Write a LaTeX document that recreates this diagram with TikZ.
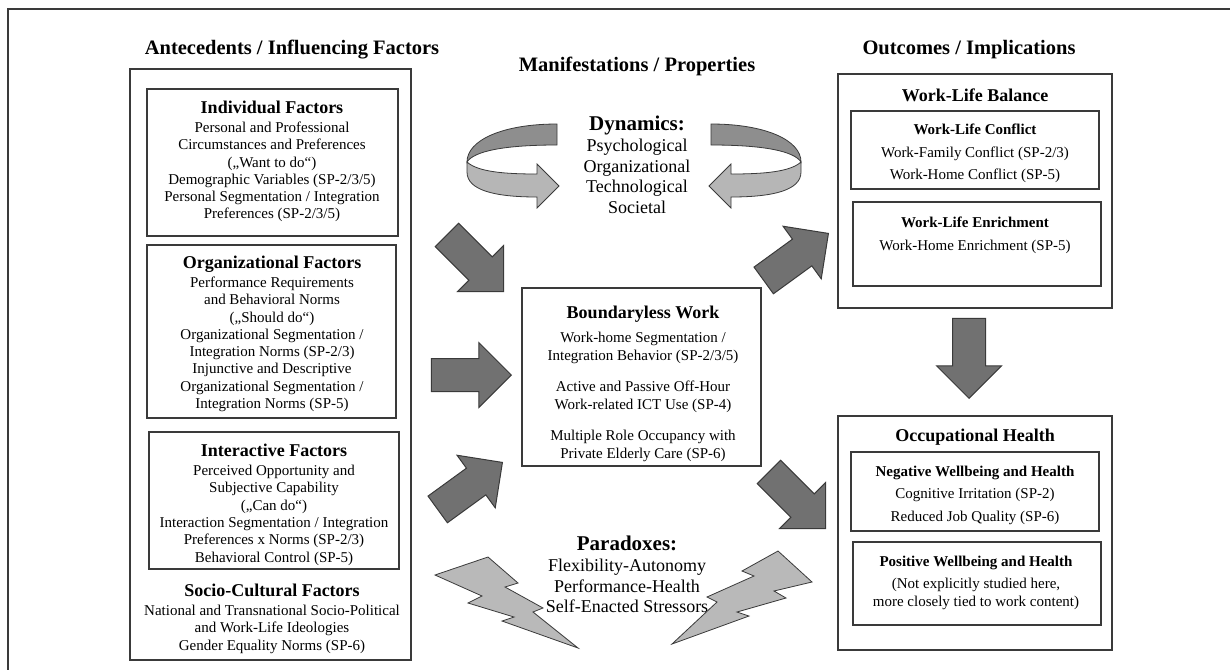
\documentclass[tikz,border=0pt]{standalone}
\usepackage{fontspec}
\setmainfont{Liberation Serif}
\usetikzlibrary{shapes.arrows,positioning}

\definecolor{linegray}{HTML}{3A3A3A}
\definecolor{arrowgray}{HTML}{717171}
\definecolor{boltgray}{HTML}{B9B9B9}
\definecolor{backgray}{HTML}{8E8E8E}
\definecolor{frontgray}{HTML}{B6B6B6}

\tikzset{
  box/.style={draw=linegray, line width=1.2pt},
  headtitle/.style={inner sep=0pt, font=\fontsize{20.5}{24}\selectfont\bfseries},
  txt/.style={align=center, inner sep=0pt, font=\fontsize{15}{17.3}\selectfont},
  bigtxt/.style={align=center, inner sep=0pt, font=\fontsize{18}{20.7}\selectfont},
  blockarrow/.style={single arrow, draw=linegray, fill=arrowgray, line width=1pt,
    inner sep=0pt, text height=32pt, text depth=0pt, minimum height=80pt,
    single arrow head extend=16pt, single arrow tip angle=90},
  bolt/.style={draw=linegray, fill=boltgray, line width=0.8pt, line join=miter},
  ribbon/.style={draw=linegray, line width=0.8pt}
}
\newcommand{\hd}[1]{{\fontsize{18}{20}\selectfont\bfseries #1}}
\newcommand{\subhd}[1]{{\fontsize{15}{17}\selectfont\bfseries #1}}
\newcommand{\dynhd}[1]{{\fontsize{21}{24}\selectfont\bfseries #1}}
% one looping ribbon arrow (left version, mirrored for the right one)
\newcommand{\loopribbon}{%
  \draw[ribbon, fill=backgray] (557,124) .. controls (503,124) and (467,140) .. (467,162)
    .. controls (474,151) and (505,145) .. (557,145) -- cycle;
  \draw[ribbon, fill=frontgray] (467,162) .. controls (478,172) and (505,174) .. (537,174)
    -- (537,164) -- (559,186) -- (537,208) -- (537,197)
    .. controls (494,197) and (467,190) .. (467,172) -- cycle;
}

\begin{document}
\begin{tikzpicture}[x=1pt, y=-1pt]
  \useasboundingbox (0,0) rectangle (1230,670);
  % outer frame
  \draw[linegray, line width=1.2pt] (1230,9) -- (8,9) -- (8,670);

  % titles
  \node[headtitle, anchor=base] (antTitle) at (292,54) {Antecedents / Influencing Factors};
  \node[headtitle, anchor=base] (manTitle) at (637,71) {Manifestations / Properties};
  \node[headtitle, anchor=base] (outTitle) at (969,54) {Outcomes / Implications};

  % antecedents
  \draw[box] (130,69) rectangle (411,660);
  \draw[box] (147,89) rectangle (398,236);
  \node[txt, anchor=north] (indiv) at (272,101) {\hd{Individual Factors}\\[1.5pt]
    Personal and Professional\\ Circumstances and Preferences\\ („Want to do“)\\
    Demographic Variables (SP-2/3/5)\\ Personal Segmentation / Integration\\ Preferences (SP-2/3/5)};
  \draw[box] (147,245) rectangle (396,418);
  \node[txt, anchor=north] (orga) at (272,256) {\hd{Organizational Factors}\\[1.5pt]
    Performance Requirements\\ and Behavioral Norms\\ („Should do“)\\
    Organizational Segmentation /\\ Integration Norms (SP-2/3)\\ Injunctive and Descriptive\\
    Organizational Segmentation /\\ Integration Norms (SP-5)};
  \draw[box] (149,432) rectangle (399,569);
  \node[txt, anchor=north] (inter) at (274,444) {\hd{Interactive Factors}\\[1.5pt]
    Perceived Opportunity and\\ Subjective Capability\\ („Can do“)\\
    Interaction Segmentation / Integration\\ Preferences x Norms (SP-2/3)\\ Behavioral Control (SP-5)};
  \node[txt, anchor=north] (socio) at (272,584) {\hd{Socio-Cultural Factors}\\[1.5pt]
    National and Transnational Socio-Political\\ and Work-Life Ideologies\\ Gender Equality Norms (SP-6)};

  % manifestations
  \loopribbon
  \begin{scope}[xshift=1268pt, xscale=-1]
    \loopribbon
  \end{scope}
  \node[bigtxt, anchor=north] (dyn) at (637,116) {\dynhd{Dynamics:}\\
    Psychological\\ Organizational\\ Technological\\ Societal};
  \draw[box] (522,288) rectangle (761,466);
  \node[txt, anchor=north, font=\fontsize{15}{18}\selectfont] (bwork) at (643,306) {\hd{Boundaryless Work}\\[6pt]
    Work-home Segmentation /\\ Integration Behavior (SP-2/3/5)\\[13pt]
    Active and Passive Off-Hour\\ Work-related ICT Use (SP-4)\\[13pt]
    Multiple Role Occupancy with\\ Private Elderly Care (SP-6)};
  \node[bigtxt, anchor=north] (para) at (627,536) {\dynhd{Paradoxes:}\\
    Flexibility-Autonomy\\ Performance-Health\\ Self-Enacted Stressors};
  % lightning
  \draw[bolt] (435,575) -- (488,557) -- (518,583) -- (505,587) -- (543,608) -- (533,612)
    -- (578,648) -- (502,621) -- (514,617) -- (468,603) -- (482,596) -- cycle;
  \draw[bolt] (812,582) -- (778,551) -- (742,571) -- (754,576) -- (707,597) -- (717,602)
    -- (672,644) -- (749,616) -- (737,612) -- (786,598) -- (774,591) -- cycle;

  % outcomes
  \draw[box] (838,74) rectangle (1112,308);
  \node[inner sep=0pt, anchor=base] (wlb) at (975,101) {\hd{Work-Life Balance}};
  \draw[box] (851,111) rectangle (1099,189);
  \node[txt, anchor=north] (wlc) at (975,124) {\subhd{Work-Life Conflict}\\[5pt]
    Work-Family Conflict (SP-2/3)\\[5pt] Work-Home Conflict (SP-5)};
  \draw[box] (853,202) rectangle (1101,286);
  \node[txt, anchor=north] (wle) at (975,217) {\subhd{Work-Life Enrichment}\\[5pt]
    Work-Home Enrichment (SP-5)};
  \draw[box] (838,416) rectangle (1112,650);
  \node[inner sep=0pt, anchor=base] (ohealth) at (975,441) {\hd{Occupational Health}};
  \draw[box] (851,452) rectangle (1099,531);
  \node[txt, anchor=north] (neg) at (975,466) {\subhd{Negative Wellbeing and Health}\\[5pt]
    Cognitive Irritation (SP-2)\\[5pt] Reduced Job Quality (SP-6)};
  \draw[box] (853,542) rectangle (1101,625);
  \node[txt, anchor=north] (pos) at (976,556) {\subhd{Positive Wellbeing and Health}\\[5pt]
    (Not explicitly studied here,\\ more closely tied to work content)};

  % block arrows
  \node[blockarrow, rotate=-45, anchor=tip] (arrIndiv) at (504,292) {};
  \node[blockarrow, anchor=tip] (arrOrga) at (512,375) {};
  \node[blockarrow, rotate=36, anchor=tip] (arrInter) at (503,462) {};
  \node[blockarrow, rotate=36, anchor=tip] (arrBalance) at (829,233) {};
  \node[blockarrow, rotate=-45, anchor=tip] (arrHealth) at (826,529) {};
  \node[blockarrow, rotate=-90, anchor=tip] (arrDown) at (969,399) {};
\end{tikzpicture}
\end{document}
